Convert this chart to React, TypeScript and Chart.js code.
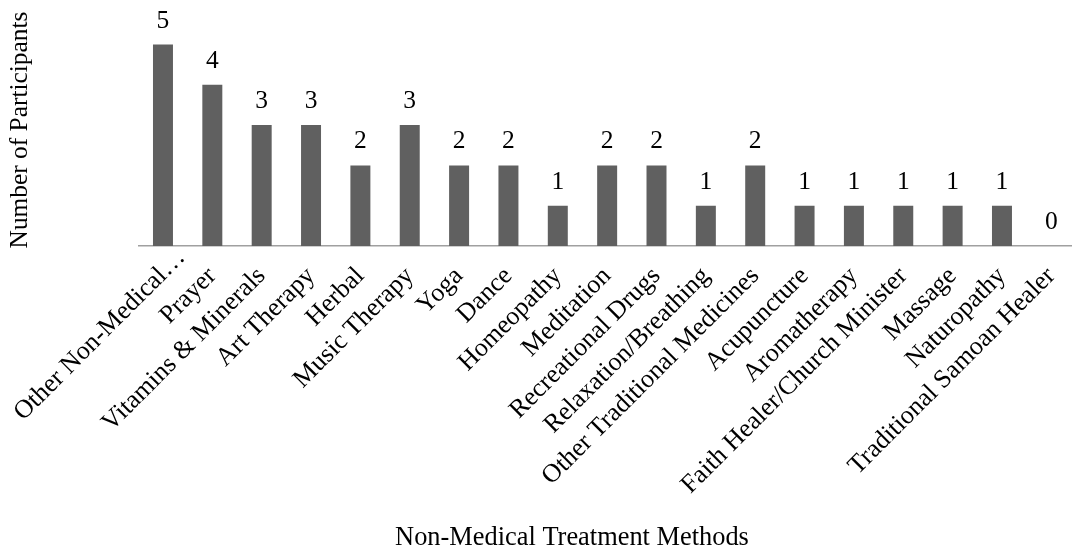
import React, { useEffect, useRef } from "react";
import { Chart, registerables } from "chart.js";

Chart.register(...registerables);

const categories: string[] = [
  "Other Non-Medical…",
  "Prayer",
  "Vitamins & Minerals",
  "Art Therapy",
  "Herbal",
  "Music Therapy",
  "Yoga",
  "Dance",
  "Homeopathy",
  "Meditation",
  "Recreational Drugs",
  "Relaxation/Breathing",
  "Other Traditional Medicines",
  "Acupuncture",
  "Aromatherapy",
  "Faith Healer/Church Minister",
  "Massage",
  "Naturopathy",
  "Traditional Samoan Healer",
];

const participants: number[] = [5, 4, 3, 3, 2, 3, 2, 2, 1, 2, 2, 1, 2, 1, 1, 1, 1, 1, 0];

const xTitle = "Non-Medical Treatment Methods";
const yTitle = "Number of Participants";

const FONT = '"Liberation Serif", "Times New Roman", serif';
const TICK_SIZE = 26;
const TICK_PAD = 15;
const ELLIPSIS = "…";

// Value labels above each bar
const valueLabels = {
  id: "valueLabels",
  afterDatasetsDraw(chart: any) {
    const ctx = chart.ctx;
    const meta = chart.getDatasetMeta(0);
    const data = chart.data.datasets[0].data;
    ctx.save();
    ctx.font = `25.5px ${FONT}`;
    ctx.fillStyle = "#000000";
    ctx.textAlign = "center";
    ctx.textBaseline = "alphabetic";
    meta.data.forEach((bar: any, i: number) => {
      ctx.fillText(String(data[i]), bar.x, bar.y - 17);
    });
    ctx.restore();
  },
};

// 45° category labels; a truncated label lets its ellipsis hang past the tick
const slantedTicks = {
  id: "slantedTicks",
  afterDraw(chart: any) {
    const ctx = chart.ctx;
    const xScale = chart.scales.x;
    const lineHeight = TICK_SIZE * 1.2;
    const angle = -Math.PI / 4;
    ctx.save();
    ctx.font = `${TICK_SIZE}px ${FONT}`;
    ctx.fillStyle = "#000000";
    ctx.textAlign = "right";
    ctx.textBaseline = "middle";
    const labels: string[] = chart.data.labels;
    labels.forEach((label: string, i: number) => {
      const px = xScale.getPixelForTick(i) + (lineHeight / 2) * Math.sin(angle);
      const py = xScale.top + TICK_PAD;
      const hang = label.endsWith(ELLIPSIS) ? ctx.measureText(ELLIPSIS).width : 0;
      ctx.save();
      ctx.translate(px, py);
      ctx.rotate(angle);
      ctx.fillText(label, hang, lineHeight / 2);
      ctx.restore();
    });
    ctx.restore();
  },
};

// Axis titles
const axisTitles = {
  id: "axisTitles",
  afterDraw(chart: any) {
    const ctx = chart.ctx;
    ctx.save();
    ctx.font = `26.4px ${FONT}`;
    ctx.fillStyle = "#000000";
    ctx.textAlign = "center";
    ctx.textBaseline = "alphabetic";
    ctx.fillText(xTitle, 572, 545);
    ctx.font = `25.4px ${FONT}`;
    ctx.translate(20, 130);
    ctx.rotate(-Math.PI / 2);
    ctx.textBaseline = "middle";
    ctx.fillText(yTitle, 0, 0);
    ctx.restore();
  },
};

export default function App() {
  const canvasRef = useRef<HTMLCanvasElement | null>(null);

  useEffect(() => {
    const canvas = canvasRef.current;
    if (!canvas) return;
    const chart = new Chart(canvas, {
      type: "bar",
      data: {
        labels: categories,
        datasets: [
          {
            data: participants,
            backgroundColor: "#606060",
            borderWidth: 0,
            categoryPercentage: 1,
            barPercentage: 0.405,
          },
        ],
      },
      options: {
        responsive: false,
        animation: false,
        devicePixelRatio: 1,
        layout: { padding: { left: 138.3, right: 4, top: 4.2, bottom: 0 } },
        plugins: {
          legend: { display: false },
          tooltip: { enabled: false },
        },
        scales: {
          x: {
            grid: { display: false, drawTicks: false },
            border: { display: true, color: "#a0a0a0", width: 1.5 },
            ticks: { display: false, autoSkip: false },
            afterFit(scale: any) {
              scale.height = 304;
              scale.paddingLeft = 0;
              scale.paddingRight = 0;
            },
          },
          y: {
            display: false,
            min: 0,
            max: 6,
          },
        },
      },
      plugins: [valueLabels, slantedTicks, axisTitles],
    });
    return () => chart.destroy();
  }, []);

  return (
    <div
      style={{
        position: "fixed",
        left: 0,
        top: 0,
        width: 1072,
        height: 550,
        overflow: "hidden",
        background: "#ffffff",
      }}
    >
      <canvas
        ref={canvasRef}
        width={1080}
        height={550}
        style={{ width: 1080, height: 550, display: "block" }}
      />
    </div>
  );
}
